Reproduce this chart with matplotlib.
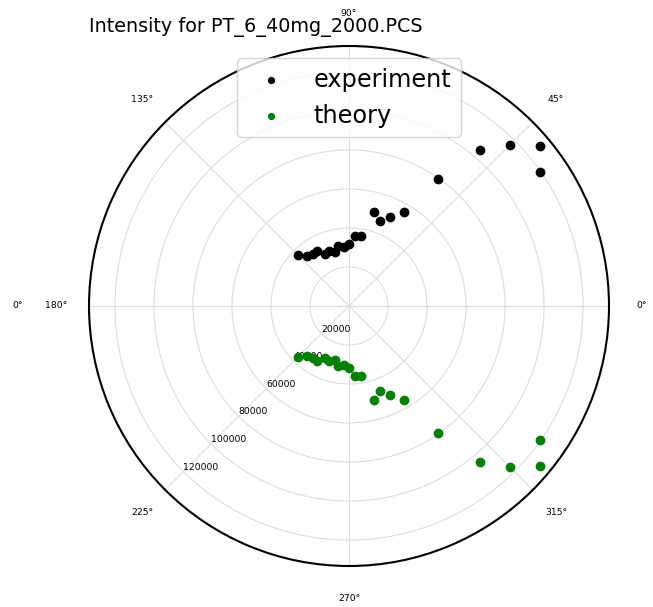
import numpy as np
import matplotlib
matplotlib.use("Agg")
import matplotlib.pyplot as plt

# angles in degrees, intensities
exp_theta_deg = [35, 40, 45, 50, 55, 60, 65, 70, 75, 80, 85, 90, 95, 100,
                 105, 110, 115, 120, 125, 130, 135]
exp_r = [119450, 128000, 116870, 104460, 79400, 55900, 50320, 46200, 49920,
         36420, 36030, 31800, 30400, 31380, 28400, 29960, 29380, 32840,
         32500, 33300, 37250]

theory_theta_deg = [325, 320, 315, 310, 305, 300, 295, 290, 285, 280, 275,
                    270, 265, 260, 255, 250, 245, 240, 235, 230, 225]
theory_r = [119450, 128000, 116870, 104460, 79400, 55900, 50320, 46200, 49920,
            36420, 36030, 31800, 30400, 31380, 28400, 29960, 29380, 32840,
            32500, 33300, 37250]

r_ticks = [20000, 40000, 60000, 80000, 100000, 120000]
r_max = 133300

fig = plt.figure(figsize=(6.53, 6.07), dpi=100)
ax = fig.add_axes([89/653, 41/607, 520/653, 520/607], projection='polar')

ax.scatter(np.deg2rad(exp_theta_deg), exp_r, color='black', s=36, label='experiment', zorder=3)
ax.scatter(np.deg2rad(theory_theta_deg), theory_r, color='green', s=36, label='theory', zorder=3)

ax.set_ylim(0, r_max)
ax.set_yticks(r_ticks)
ax.set_yticklabels([str(v) for v in r_ticks], fontsize=6.7)
ax.set_rlabel_position(225)
ax.set_thetagrids(range(0, 360, 45), [f"{a}°" for a in range(0, 360, 45)], fontsize=6.7)
ax.tick_params(axis='x', pad=13)
ax.grid(True, color='#dddddd', linewidth=0.8)
ax.spines['polar'].set_linewidth(1.5)
ax.spines['polar'].set_color('black')

ax.set_title("Intensity for PT_6_40mg_2000.PCS", loc='left', fontsize=13.8, y=1.0, pad=10)
ax.legend(loc='upper center', fontsize=17.28, scatterpoints=1, markerscale=0.7)

fig.text(18/653, 1 - 306/607, "0°", fontsize=6.7, ha='center', va='center')

fig.savefig("out.png", dpi=100)
